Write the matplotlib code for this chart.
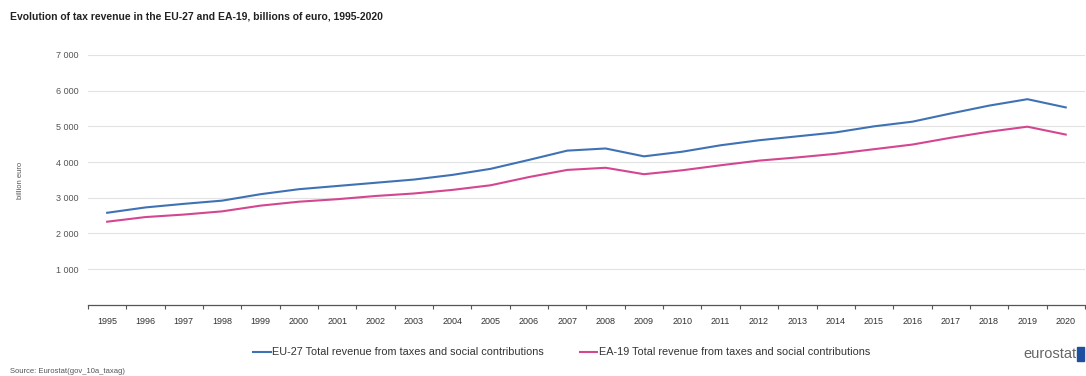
import numpy as np
import matplotlib.pyplot as plt
from matplotlib.ticker import FuncFormatter, FixedLocator

years = list(range(1995, 2021))
eu27 = [2580, 2730, 2830, 2920, 3100, 3240, 3330, 3420, 3510, 3640, 3810, 4060, 4320,
        4380, 4160, 4290, 4470, 4610, 4720, 4830, 5000, 5130, 5360, 5580, 5760, 5530]
ea19 = [2330, 2460, 2530, 2620, 2780, 2890, 2960, 3050, 3120, 3220, 3350, 3580, 3780,
        3840, 3660, 3770, 3910, 4040, 4130, 4230, 4360, 4490, 4680, 4850, 4990, 4770]

blue = '#3f72b5'
pink = '#d4468f'
grey_txt = '#555555'

plt.rcParams['font.family'] = ['Liberation Sans', 'DejaVu Sans']

fig = plt.figure(figsize=(10.86, 3.76), dpi=100)
ax = fig.add_axes([0.081, 0.189, 0.918, 0.665])

x = np.arange(len(years))
ax.plot(x, eu27, color=blue, linewidth=1.5, label='EU-27 Total revenue from taxes and social contributions')
ax.plot(x, ea19, color=pink, linewidth=1.5, label='EA-19 Total revenue from taxes and social contributions')

ax.set_xlim(-0.5, len(years) - 0.5)
ax.set_ylim(0, 7000)
ax.set_yticks(range(1000, 7001, 1000))
ax.yaxis.set_major_formatter(FuncFormatter(lambda v, p: f'{int(v):,}'.replace(',', ' ')))
ax.grid(axis='y', color='#e2e2e2', linewidth=0.8)
ax.set_axisbelow(True)

ax.set_xticks(x)
ax.set_xticklabels([str(y) for y in years])
ax.xaxis.set_minor_locator(FixedLocator(np.arange(-0.5, len(years), 1)))
ax.tick_params(axis='x', which='major', length=0, pad=9, labelsize=6.5, labelcolor='#333333')
ax.tick_params(axis='x', which='minor', length=3, color='#555555', width=0.8)
ax.tick_params(axis='y', length=0, pad=7, labelsize=6.5, labelcolor=grey_txt)

for s in ['left', 'right', 'top']:
    ax.spines[s].set_visible(False)
ax.spines['bottom'].set_color('#555555')
ax.spines['bottom'].set_linewidth(0.9)

fig.text(0.019, 0.52, 'billion euro', rotation=90, fontsize=5.5, color=grey_txt, va='center', ha='center')
fig.text(0.009, 0.955, 'Evolution of tax revenue in the EU-27 and EA-19, billions of euro, 1995-2020',
         fontsize=7.5, fontweight='bold', color='#222222', va='center')

fig.legend(loc='center', bbox_to_anchor=(0.517, 0.063), ncol=2, frameon=False, fontsize=7.8,
           handlelength=1.65, handletextpad=0.1, columnspacing=3.3, labelcolor='#333333')

fig.text(0.009, 0.013, 'Source: Eurostat(gov_10a_taxag)', fontsize=5.5, color=grey_txt, va='center')
fig.text(0.991, 0.058, 'eurostat', fontsize=10.5, color='#666666', ha='right', va='center')
fig.patches.append(plt.Rectangle((0.992, 0.04), 0.006, 0.036, transform=fig.transFigure,
                                 color='#1f4f9e', figure=fig))

fig.savefig('out.png', dpi=100)
